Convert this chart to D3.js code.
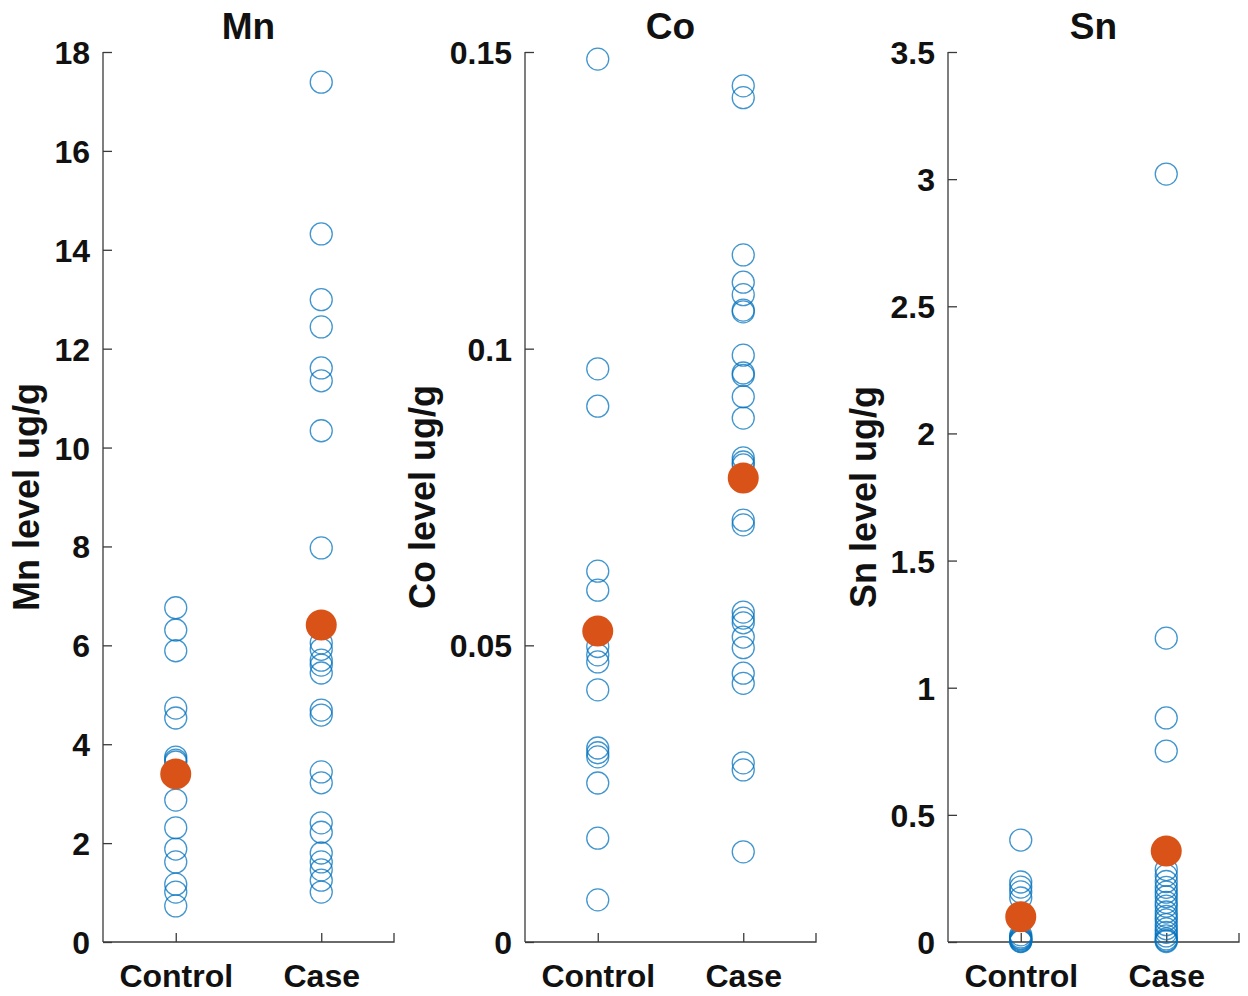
<!DOCTYPE html>
<html>
<head>
<meta charset="utf-8">
<script src="https://cdn.jsdelivr.net/npm/d3@7"></script>
<style>
  html, body { margin: 0; padding: 0; background: #fff; }
  svg { display: block; }
  text { font-family: "Liberation Sans", Arial, Helvetica, sans-serif; font-weight: bold; fill: #111; }
</style>
</head>
<body>
<svg id="chart" width="1248" height="996"></svg>
<script>
// ---------------- data ----------------
const categories = ["Control", "Case"];

const mnControl = [6.76, 6.31, 5.89, 4.73, 4.53, 3.74, 3.68, 3.64, 2.87, 2.31, 1.88, 1.62, 1.17, 1.01, 0.73];
const mnCase = [17.39, 14.32, 12.99, 12.44, 11.61, 11.35, 10.34, 7.97, 6.05, 5.92, 5.70, 5.60, 5.44, 4.69, 4.59, 3.44, 3.22, 2.41, 2.22, 1.80, 1.62, 1.46, 1.25, 1.01];
const mnMean = [3.40, 6.41];
const mnTicks = [0, 2, 4, 6, 8, 10, 12, 14, 16, 18];

const coControl = [0.1488, 0.0966, 0.0903, 0.0625, 0.0593, 0.0498, 0.0484, 0.0472, 0.0425, 0.0327, 0.0319, 0.0312, 0.0268, 0.0175, 0.0071];
const coCase = [0.1443, 0.1423, 0.1158, 0.1112, 0.1091, 0.1065, 0.1062, 0.0989, 0.0959, 0.0955, 0.0919, 0.0883, 0.0816, 0.0809, 0.0804, 0.0711, 0.0703, 0.0556, 0.0546, 0.0538, 0.0514, 0.0496, 0.0453, 0.0436, 0.0302, 0.0290, 0.0152];
const coMean = [0.0524, 0.0782];
const coTicks = [0, 0.05, 0.1, 0.15];

const snControl = [0.401, 0.236, 0.216, 0.197, 0.173, 0.028, 0.020, 0.015, 0.012, 0.008, 0.004, 0.002];
const snCase = [3.02, 1.195, 0.881, 0.751, 0.285, 0.262, 0.238, 0.215, 0.196, 0.178, 0.156, 0.141, 0.118, 0.101, 0.087, 0.068, 0.052, 0.038, 0.024, 0.012, 0.006, 0.002];
const snMean = [0.0995, 0.358];
const snTicks = [0, 0.5, 1, 1.5, 2, 2.5, 3, 3.5];

const panels = [
  { title: "Mn", ylabel: "Mn level ug/g", groups: [mnControl, mnCase], means: mnMean, ticks: mnTicks, max: 18 },
  { title: "Co", ylabel: "Co level ug/g", groups: [coControl, coCase], means: coMean, ticks: coTicks, max: 0.15 },
  { title: "Sn", ylabel: "Sn level ug/g", groups: [snControl, snCase], means: snMean, ticks: snTicks, max: 3.5 }
];

// ---------------- layout ----------------
const lefts = [103, 525, 948];
const plotW = 291;
const plotTop = 52, plotBottom = 942;
const axisColor = "#3a3a3a";
const blue = "#0072BD";
const orange = "#D95319";
const tickLen = 9;

const svg = d3.select("#chart");

panels.forEach((p, i) => {
  const x0 = lefts[i];
  const g = svg.append("g").attr("transform", `translate(${x0},0)`);

  const x = d3.scaleLinear().domain([0.5, 2.5]).range([0, plotW]);
  const y = d3.scaleLinear().domain([0, p.max]).range([plotBottom, plotTop]);

  // y axis
  const yAxis = d3.axisLeft(y).tickValues(p.ticks).tickSize(-tickLen).tickPadding(13)
    .tickFormat(d => d3.format("~g")(d));
  const ya = g.append("g").call(yAxis);
  ya.select(".domain").attr("d", `M0,${plotTop}V${plotBottom}`).attr("stroke", axisColor).attr("stroke-width", 1.3);
  ya.selectAll(".tick line").attr("stroke", axisColor).attr("stroke-width", 1.3);
  ya.selectAll(".tick text").style("font-size", "32px").attr("dy", "0.36em")
    .attr("font-family", null).style("fill", "#111");

  // x axis
  const xAxis = d3.axisBottom(x).tickValues([1, 2]).tickSize(-tickLen).tickPadding(22)
    .tickFormat(d => categories[d - 1]);
  const xa = g.append("g").attr("transform", `translate(0,${plotBottom})`).call(xAxis);
  xa.select(".domain").attr("d", `M0,0H${plotW}V${-tickLen}`).attr("stroke", axisColor).attr("stroke-width", 1.3).attr("fill", "none");
  xa.selectAll(".tick line").attr("stroke", axisColor).attr("stroke-width", 1.3);
  xa.selectAll(".tick text").style("font-size", "32px").attr("dy", "0.71em")
    .attr("font-family", null).style("fill", "#111");

  // points
  p.groups.forEach((vals, gi) => {
    g.append("g").selectAll("circle").data(vals).join("circle")
      .attr("cx", x(gi + 1))
      .attr("cy", d => y(d))
      .attr("r", 11)
      .attr("fill", "none")
      .attr("stroke", blue)
      .attr("stroke-opacity", 0.75)
      .attr("stroke-width", 1.3);
  });

  // means
  g.append("g").selectAll("circle").data(p.means).join("circle")
    .attr("cx", (d, k) => x(k + 1))
    .attr("cy", d => y(d))
    .attr("r", 15.5)
    .attr("fill", orange);

  // title
  g.append("text")
    .attr("x", plotW / 2).attr("y", 39)
    .attr("text-anchor", "middle")
    .style("font-size", "37px")
    .text(p.title);

  // y label: placed to the left of the widest tick label
  let minLeft = 0;
  ya.selectAll(".tick text").each(function () {
    const b = this.getBBox();
    minLeft = Math.min(minLeft, b.x);
  });
  g.append("text")
    .attr("transform", `translate(${minLeft - 15},${(plotTop + plotBottom) / 2}) rotate(-90)`)
    .attr("text-anchor", "middle")
    .style("font-size", "36px")
    .text(p.ylabel);
});
</script>
</body>
</html>
